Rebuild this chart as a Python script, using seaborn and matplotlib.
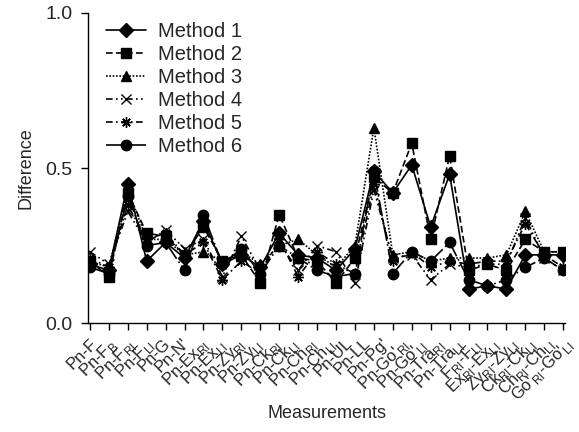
import numpy as np
import pandas as pd
import seaborn as sns
import matplotlib.pyplot as plt

m1 = [0.19, 0.17, 0.45, 0.20, 0.26, 0.21, 0.33, 0.19, 0.22, 0.18, 0.29, 0.22, 0.21,
      0.17, 0.24, 0.49, 0.42, 0.51, 0.31, 0.48, 0.11, 0.12, 0.11, 0.22, 0.22, 0.22]
m2 = [0.20, 0.15, 0.42, 0.29, 0.28, 0.22, 0.31, 0.20, 0.22, 0.13, 0.35, 0.21, 0.20,
      0.13, 0.21, 0.47, 0.42, 0.58, 0.27, 0.54, 0.17, 0.19, 0.17, 0.27, 0.23, 0.23]
m3 = [0.20, 0.18, 0.43, 0.27, 0.27, 0.22, 0.23, 0.20, 0.23, 0.19, 0.25, 0.27, 0.22,
      0.18, 0.25, 0.63, 0.22, 0.23, 0.20, 0.21, 0.21, 0.21, 0.22, 0.36, 0.23, 0.23]
m4 = [0.23, 0.19, 0.36, 0.26, 0.30, 0.24, 0.27, 0.15, 0.28, 0.17, 0.26, 0.17, 0.25,
      0.23, 0.13, 0.43, 0.21, 0.22, 0.14, 0.19, 0.18, 0.19, 0.19, 0.34, 0.21, 0.17]
m5 = [0.21, 0.18, 0.38, 0.27, 0.29, 0.22, 0.26, 0.14, 0.20, 0.16, 0.27, 0.15, 0.23,
      0.19, 0.16, 0.45, 0.20, 0.23, 0.18, 0.20, 0.19, 0.20, 0.20, 0.32, 0.22, 0.18]
m6 = [0.18, 0.16, 0.41, 0.25, 0.26, 0.17, 0.35, 0.19, 0.24, 0.16, 0.25, 0.21, 0.17,
      0.15, 0.16, 0.49, 0.16, 0.23, 0.20, 0.26, 0.14, 0.12, 0.14, 0.18, 0.21, 0.17]

methods = ['Method 1', 'Method 2', 'Method 3', 'Method 4', 'Method 5', 'Method 6']

# the reference prints 27 labels under 26 tick marks
tick_labels = ['Pn-F', r'Pn-F$_{\rm B}$', r'Pn-F$_{\rm RI}$', r'Pn-F$_{\rm LI}$', 'Pn-G', "Pn-N'",
               r'Pn-Ex$_{\rm RI}$', r'Pn-Ex$_{\rm LI}$', r'Pn-Zy$_{\rm RI}$', r'Pn-Zy$_{\rm LI}$',
               r'Pn-Ck$_{\rm RI}$', r'Pn-Ck$_{\rm LI}$', r'Pn-Ch$_{\rm RI}$', r'Pn-Ch$_{\rm LI}$',
               'Pn-UL', 'Pn-LL', "Pn-Pg'", r"Pn-Go'$_{\rm RI}$", r"Pn-Go'$_{\rm LI}$",
               r'Pn-Tra$_{\rm RI}$', r'Pn-Tra$_{\rm LI}$', r'F$_{\rm RI}$-F$_{\rm LI}$',
               r'Ex$_{\rm RI}$-Ex$_{\rm LI}$', r'Zy$_{\rm RI}$-Zy$_{\rm LI}$',
               r'Ck$_{\rm RI}$-Ck$_{\rm LI}$', r"Ch$_{\rm RI}$-Ch$_{\rm LI}$",
               r"Go'$_{\rm RI}$-Go'$_{\rm LI}$"]

sns.set_style('ticks')
plt.rcParams['font.family'] = ['Liberation Sans', 'DejaVu Sans']
plt.rcParams['mathtext.fontset'] = 'custom'
plt.rcParams['mathtext.rm'] = 'Liberation Sans'

markers = ['D', 's', '^', 'x', (8, 2, 0), 'o']
linestyles = ['-', (0, (4, 2)), (0, (1, 1)), (0, (4, 2, 1, 2, 1, 2)),
              (0, (4, 2, 1, 2)), (0, (10, 2, 1, 2))]

fig = plt.figure(figsize=(5.79, 4.32), dpi=100)
ax = fig.add_axes([0.152, 0.252, 0.824, 0.718])

for name, vals, mk, ls in zip(methods, [m1, m2, m3, m4, m5, m6], markers, linestyles):
    d = pd.DataFrame({'pos': np.arange(len(vals)), 'Difference': vals})
    sns.lineplot(data=d, x='pos', y='Difference', ax=ax, color='black', label=name,
                 marker=mk, linestyle=ls, linewidth=1.2, markersize=7.5,
                 markeredgecolor='black', markeredgewidth=1.0)

ax.set_xlim(-0.1, 25.1)
ax.set_ylim(0, 1.0)
ax.set_yticks([0.0, 0.5, 1.0])
ax.set_yticklabels(['0.0', '0.5', '1.0'], fontsize=14)
ax.set_xticks(range(26))
ax.set_xticklabels([])
ax.xaxis.remove_overlapping_locs = False
ax.set_xticks(np.linspace(0, 25, 27), minor=True)
ax.set_xticklabels(tick_labels, minor=True, rotation=45, ha='right',
                   rotation_mode='anchor', fontsize=12)
ax.tick_params(axis='x', which='minor', length=0, pad=9)
ax.tick_params(axis='both', which='major', length=5, width=1, color='black', direction='out')
ax.tick_params(axis='y', which='major', pad=6)
sns.despine(ax=ax)
for s in ['left', 'bottom']:
    ax.spines[s].set_color('black')
    ax.spines[s].set_linewidth(1)

ax.set_xlabel('Measurements', fontsize=13, labelpad=0)
ax.set_ylabel('Difference', fontsize=13, labelpad=8)

leg = ax.legend(loc='upper left', bbox_to_anchor=(0.0, 1.03), frameon=False,
                fontsize=14.5, handlelength=2.0, labelspacing=0.2, handletextpad=0.6)

fig.savefig('out.png', dpi=100)
